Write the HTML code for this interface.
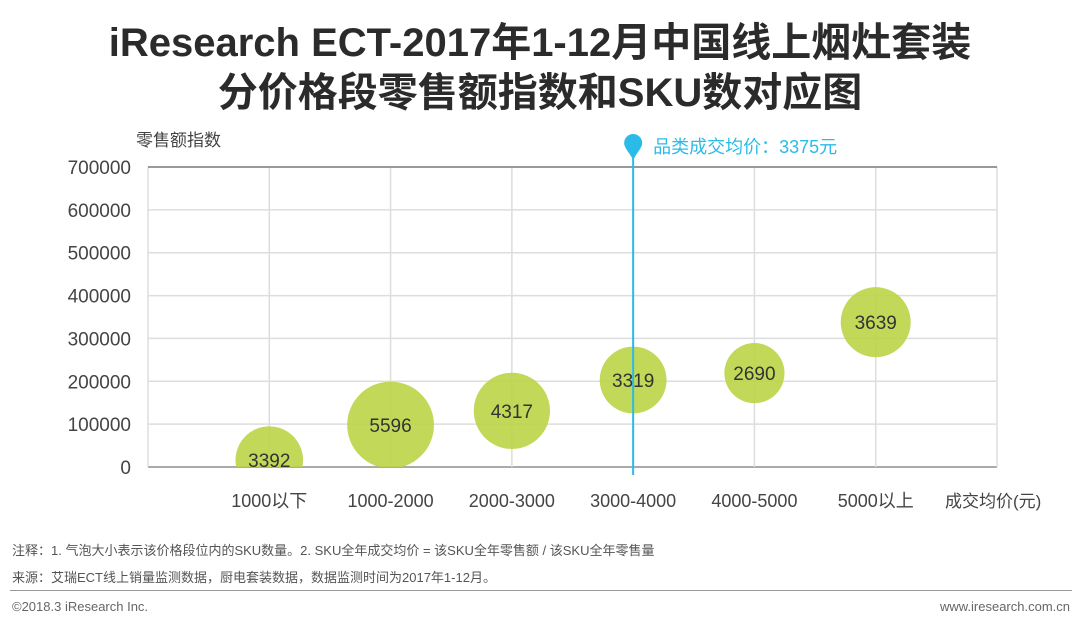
<!DOCTYPE html>
<html><head><meta charset="utf-8"><style>
body{margin:0;width:1080px;height:629px;background:#fff;overflow:hidden;font-family:"Liberation Sans","Noto Sans CJK SC",sans-serif;}
.t{position:absolute;left:0;width:1080px;text-align:center;font-weight:bold;font-size:40px;color:#2b2b2b;line-height:46px;}
.s{position:absolute;font-size:13px;color:#555;}
</style></head><body>
<div class="t" style="top:20px">iResearch ECT-2017年1-12月中国线上烟灶套装</div>
<div class="t" style="top:70px">分价格段零售额指数和SKU数对应图</div>
<svg id="c" width="1080" height="629" style="position:absolute;left:0;top:0">
<defs><clipPath id="plotclip"><rect x="148" y="150" width="849" height="317"/></clipPath></defs>
</svg>
<div class="s" style="left:12px;top:540px">注释：1. 气泡大小表示该价格段位内的SKU数量。2. SKU全年成交均价 = 该SKU全年零售额 / 该SKU全年零售量</div>
<div class="s" style="left:12px;top:567px">来源：艾瑞ECT线上销量监测数据，厨电套装数据，数据监测时间为2017年1-12月。</div>
<div style="position:absolute;left:10px;top:590px;width:1062px;height:1px;background:#999"></div>
<div class="s" style="left:12px;top:599px;color:#666">©2018.3 iResearch Inc.</div>
<div class="s" style="right:10px;top:599px;color:#666">www.iresearch.com.cn</div>
<script>
const categories=["1000以下","1000-2000","2000-3000","3000-4000","4000-5000","5000以上"];
const values=[16000,98000,131000,203000,219000,338000];
const skus=[3392,5596,4317,3319,2690,3639];
const yTicks=[0,100000,200000,300000,400000,500000,600000,700000];
const avgCatIndex=3;
const avgLabel="品类成交均价：3375元";
const NS="http://www.w3.org/2000/svg";
const svg=document.getElementById('c');
const L=148,R=997,T=167,B=467,step=(R-L)/7;
const xPos=i=>L+step*(i+1);
const yPos=v=>B-(v/700000)*(B-T);
const rad=s=>Math.sqrt(s)*0.58;
function el(tag,a,txt,parent){const e=document.createElementNS(NS,tag);for(const k in a)e.setAttribute(k,a[k]);if(txt!==undefined&&txt!==null)e.textContent=txt;(parent||svg).appendChild(e);return e;}
yTicks.forEach(v=>{
 const g=el('line',{x1:L,x2:R,y1:yPos(v),y2:yPos(v),stroke:v==0?'#aaa':'#ddd','stroke-width':v==0?2:1.5});
 
 
 const t=el('text',{x:131,y:yPos(v)+7,'text-anchor':'end','font-size':19,fill:'#444'},String(v));
 
 
});
for(let i=0;i<=7;i++){
 const g=el('line',{x1:L+step*i,x2:L+step*i,y1:T,y2:B,stroke:'#ddd','stroke-width':1.5});
 
 
}
const plotTop=el('line',{x1:L,x2:R,y1:T,y2:T,stroke:'#999','stroke-width':2});


const yt=el('text',{x:136,y:146,'font-size':17,fill:'#444'},'零售额指数');


const xt=el('text',{x:945,y:507,'font-size':17,fill:'#444'},'成交均价(元)');


categories.forEach((c,i)=>{
 const t=el('text',{x:xPos(i),y:507,'text-anchor':'middle','font-size':18,fill:'#444'},c);
 
 
});
const bg=el('g',{'clip-path':'url(#plotclip)'});


categories.forEach((c,i)=>{
 const b=el('circle',{cx:xPos(i),cy:yPos(values[i]),r:rad(skus[i]),fill:'#bad446','fill-opacity':0.9},null,bg);
 
 
 const t=el('text',{x:xPos(i),y:yPos(values[i])+7,'text-anchor':'middle','font-size':19,fill:'#333'},String(skus[i]),bg);
 
 
});
const ax=xPos(avgCatIndex);
const al=el('line',{x1:ax,x2:ax,y1:148,y2:475,stroke:'#2bbbe8','stroke-width':2});


const pin=el('path',{d:`M${ax} 160 C${ax-4} 152 ${ax-9} 148 ${ax-9} 143 A9 9 0 1 1 ${ax+9} 143 C${ax+9} 148 ${ax+4} 152 ${ax} 160Z`,fill:'#2bbbe8'});


const alt=el('text',{x:ax+20,y:153,'font-size':18,fill:'#2bbbe8'},avgLabel);


</script>
</body></html>
